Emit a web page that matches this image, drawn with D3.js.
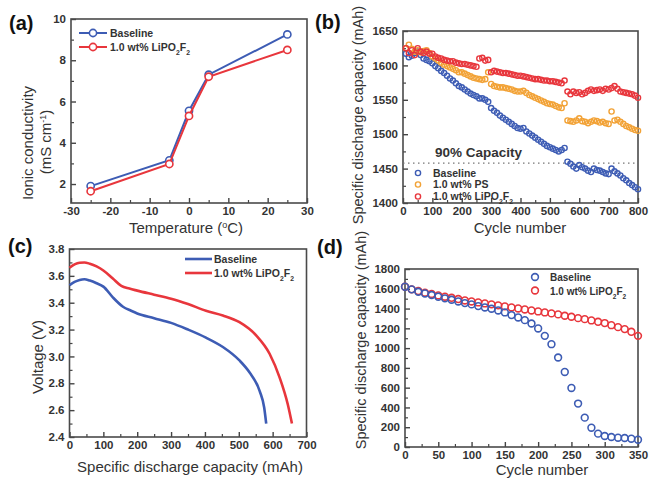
<!DOCTYPE html>
<html><head><meta charset="utf-8">
<script src="https://cdn.jsdelivr.net/npm/d3@7/dist/d3.min.js"></script>
<style>
body{margin:0;background:#fff;}
svg text{font-family:"Liberation Sans",Arial,sans-serif;}
.tk text{font-weight:bold;font-size:11.5px;fill:#333;font-family:"Liberation Sans",Arial,sans-serif;}
</style></head>
<body><svg id="c" width="650" height="479"></svg>
<script>
// ---------- Panel (a) ----------
const aTemps = [-25, -5, 0, 5, 25];
const aBaseline = [1.9, 3.15, 5.55, 7.3, 9.25];
const aLiPO = [1.65, 2.97, 5.3, 7.2, 8.5];
const aXTicks = [-30, -20, -10, 0, 10, 20, 30];
const aYTicks = [2, 4, 6, 8, 10];

// ---------- Panel (b) ----------
const bBaseline = [1617,1612,1614,1618,1620,1615,1610,1608,1606,1603,
1599,1596,1592,1589,1585,1581,1578,1574,1570,1568,
1565,1562,1559,1557,1555,1552,1552,1550,1547,1538,
1534,1531,1527,1524,1521,1518,1515,1512,1509,1508,
1509,1504,1501,1498,1495,1492,1489,1486,1483,1481,
1479,1477,1475,1477,1480,1460,1457,1453,1450,1455,
1452,1450,1447,1445,1450,1448,1447,1445,1443,1442,
1450,1446,1443,1440,1436,1433,1429,1426,1423,1420];
const bPS = [1625,1630,1624,1620,1622,1619,1621,1622,1618,1613,
1610,1607,1604,1601,1599,1597,1595,1593,1590,1590,
1588,1586,1584,1582,1581,1580,1579,1580,1590,1573,
1570,1569,1568,1568,1567,1566,1565,1563,1562,1562,
1563,1560,1557,1555,1553,1551,1549,1547,1545,1544,
1543,1541,1539,1538,1545,1520,1519,1518,1520,1523,
1519,1518,1516,1518,1520,1519,1517,1518,1516,1515,
1533,1520,1521,1518,1515,1512,1510,1508,1506,1505];
const bLiPO = [1625,1618,1622,1615,1625,1620,1618,1620,1617,1617,
1613,1611,1610,1608,1607,1606,1606,1604,1603,1602,
1602,1601,1600,1599,1598,1610,1611,1607,1608,1590,
1592,1591,1590,1589,1589,1588,1587,1586,1585,1585,
1584,1583,1582,1581,1580,1580,1579,1578,1578,1577,
1577,1576,1575,1574,1578,1562,1558,1562,1560,1561,
1558,1560,1563,1565,1563,1564,1565,1563,1566,1565,
1567,1570,1566,1562,1561,1560,1559,1558,1556,1553];
const bCycles = d3.range(10, 801, 10);
const bXTicks = [0,100,200,300,400,500,600,700,800];
const bYTicks = [1400,1450,1500,1550,1600,1650];
const bCapacity90 = 1458;

// ---------- Panel (c) ----------
const cBaseCap = [0,15,30,44,60,80,100,128,158,182,200,250,300,350,403,453,502,532,562,575,581];
const cBaseV = [3.53,3.555,3.57,3.575,3.565,3.545,3.52,3.44,3.37,3.34,3.32,3.285,3.25,3.2,3.14,3.07,2.97,2.88,2.74,2.62,2.5];
const cLiCap = [0,15,30,44,60,80,100,128,153,177,200,250,300,350,403,453,502,552,591,621,645,657];
const cLiV = [3.66,3.685,3.698,3.70,3.69,3.67,3.64,3.58,3.525,3.505,3.49,3.46,3.43,3.39,3.34,3.305,3.255,3.155,3.02,2.84,2.64,2.5];
const cXTicks = [0,100,200,300,400,500,600,700];
const cYTicks = [2.4,2.6,2.8,3.0,3.2,3.4,3.6,3.8];

// ---------- Panel (d) ----------
const dCycles = d3.range(0, 351, 10);
const dBaseline = [1621,1594,1570,1553,1537,1520,1503,1489,1472,1455,
1442,1425,1411,1398,1381,1361,1334,1310,1283,1249,
1199,1124,1040,905,759,597,439,297,195,135,
111,101,94,91,84,74];
const dLiPO = [1621,1594,1577,1560,1547,1533,1520,1509,1496,1482,
1472,1462,1452,1442,1432,1422,1411,1401,1391,1381,
1371,1361,1351,1341,1327,1317,1303,1293,1280,1266,
1253,1232,1212,1192,1165,1124];
const dXTicks = [0,50,100,150,200,250,300,350];
const dYTicks = [0,200,400,600,800,1000,1200,1400,1600,1800];

const BLUE = "#3d5cb4", RED = "#e8363c", ORANGE = "#f2a236", INK = "#333";
const svg = d3.select("#c");
const intFmt = d => String(d);

function panel(o){
  const g = svg.append("g");
  const x = d3.scaleLinear().domain(o.xd).range([o.l, o.r]);
  const y = d3.scaleLinear().domain(o.yd).range([o.b, o.t]);
  g.append("g").attr("transform",`translate(0,${o.b})`)
    .call(d3.axisBottom(x).tickValues(o.xMinor).tickSize(-3).tickFormat(""))
    .call(s=>{s.select(".domain").remove(); s.selectAll("line").attr("stroke","#444").attr("stroke-width",1.2);});
  g.append("g").attr("transform",`translate(${o.l},0)`)
    .call(d3.axisLeft(y).tickValues(o.yMinor).tickSize(-3).tickFormat(""))
    .call(s=>{s.select(".domain").remove(); s.selectAll("line").attr("stroke","#444").attr("stroke-width",1.2);});
  g.append("g").attr("class","tk").attr("transform",`translate(0,${o.b})`)
    .call(d3.axisBottom(x).tickValues(o.xTicks).tickSize(-5).tickPadding(4).tickFormat(o.xf||intFmt))
    .call(s=>{s.select(".domain").remove(); s.selectAll("line").attr("stroke","#444").attr("stroke-width",1.4);});
  g.append("g").attr("class","tk").attr("transform",`translate(${o.l},0)`)
    .call(d3.axisLeft(y).tickValues(o.yTicks).tickSize(-5).tickPadding(5).tickFormat(o.yf||intFmt))
    .call(s=>{s.select(".domain").remove(); s.selectAll("line").attr("stroke","#444").attr("stroke-width",1.4);});
  g.append("rect").attr("x",o.l).attr("y",o.t).attr("width",o.r-o.l).attr("height",o.b-o.t)
    .attr("fill","none").attr("stroke","#4a4a4a").attr("stroke-width",1.6);
  return {g,x,y};
}

function label(txt,x,y){
  svg.append("text").attr("x",x).attr("y",y).text(txt)
    .attr("font-family","'Liberation Serif','DejaVu Serif',serif").attr("font-weight","bold")
    .attr("font-size",20).attr("fill","#111");
}
function title(x,y,rot,parts,size){
  const t = svg.append("text").attr("text-anchor","middle").attr("font-size",size||15).attr("fill",INK)
    .attr("transform",`translate(${x},${y})${rot?" rotate(-90)":""}`);
  parts.forEach(p=>{
    const s = t.append("tspan").text(p.t);
    if(p.sup){ s.attr("baseline-shift","super").attr("font-size",(size||15)*0.6); }
  });
  return t;
}
function lipoText(sel, x, y, size){
  const t = sel.append("text").attr("x",x).attr("y",y).attr("font-size",size).attr("font-weight","bold").attr("fill",INK);
  t.append("tspan").text("1.0 wt% LiPO");
  t.append("tspan").text("2").attr("baseline-shift","sub").attr("font-size",size*0.65);
  t.append("tspan").text("F");
  t.append("tspan").text("2").attr("baseline-shift","sub").attr("font-size",size*0.65);
  return t;
}

// ===== (a) =====
{
  const P = panel({l:71,r:307,t:19,b:203,xd:[-30,30],yd:[1.08,10],xTicks:aXTicks,yTicks:aYTicks,
    xMinor:d3.range(-25,30,10),yMinor:[3,5,7,9]});
  const line = d3.line().x((d,i)=>P.x(aTemps[i])).y(d=>P.y(d));
  [[aBaseline,BLUE],[aLiPO,RED]].forEach(([s,c])=>{
    P.g.append("path").attr("d",line(s)).attr("fill","none").attr("stroke",c).attr("stroke-width",2);
    P.g.selectAll(null).data(s).join("circle").attr("cx",(d,i)=>P.x(aTemps[i])).attr("cy",d=>P.y(d))
      .attr("r",3.6).attr("fill","#fff").attr("stroke",c).attr("stroke-width",1.6);
  });
  [[33,BLUE],[47,RED]].forEach(([yy,c])=>{
    P.g.append("line").attr("x1",79).attr("x2",107).attr("y1",yy).attr("y2",yy).attr("stroke",c).attr("stroke-width",2);
    P.g.append("circle").attr("cx",93).attr("cy",yy).attr("r",3.6).attr("fill","#fff").attr("stroke",c).attr("stroke-width",1.6);
  });
  P.g.append("text").attr("x",110).attr("y",37).text("Baseline").attr("font-size",10.5).attr("font-weight","bold").attr("fill",INK);
  lipoText(P.g,110,51,10.5);
  label("(a)",9,30);
  title(186,233,false,[{t:"Temperature ("},{t:"o",sup:true},{t:"C)"}]);
  title(33,143,true,[{t:"Ionic conductivity"}]);
  title(51,142,true,[{t:"(mS cm"},{t:"-1",sup:true},{t:")"}]);
}

// ===== (b) =====
{
  const P = panel({l:403,r:638,t:31,b:203,xd:[0,800],yd:[1400,1650],xTicks:bXTicks,yTicks:bYTicks,
    xMinor:d3.range(50,800,100),yMinor:d3.range(1425,1650,50)});
  P.g.append("line").attr("x1",P.x(0)).attr("x2",P.x(800)).attr("y1",P.y(bCapacity90)).attr("y2",P.y(bCapacity90))
    .attr("stroke","#777").attr("stroke-width",1.4).attr("stroke-dasharray","1.5,3.5");
  [[bBaseline,BLUE],[bPS,ORANGE],[bLiPO,RED]].forEach(([s,c])=>{
    P.g.selectAll(null).data(s).join("circle").attr("cx",(d,i)=>P.x(bCycles[i])).attr("cy",d=>P.y(d))
      .attr("r",2.6).attr("fill","none").attr("stroke",c).attr("stroke-width",1.4);
  });
  P.g.append("text").attr("x",435).attr("y",157).text("90% Capacity")
    .attr("font-family","'Liberation Serif','DejaVu Serif',serif").attr("font-weight","bold").attr("font-size",13.5).attr("fill",INK);
  [[173,BLUE,"Baseline"],[184.5,ORANGE,"1.0 wt% PS"],[196.5,RED,null]].forEach(([yy,c,t])=>{
    P.g.append("circle").attr("cx",418).attr("cy",yy).attr("r",2.6).attr("fill","none").attr("stroke",c).attr("stroke-width",1.4);
    if(t) P.g.append("text").attr("x",433).attr("y",yy+3.5).text(t).attr("font-size",10.5).attr("font-weight","bold").attr("fill",INK);
    else lipoText(P.g,433,yy+3.5,10.5);
  });
  label("(b)",315,29);
  title(520,233,false,[{t:"Cycle number"}]);
  title(363,115,true,[{t:"Specific discharge capacity (mAh)"}],14.5);
}

// ===== (c) =====
{
  const P = panel({l:69.5,r:306.5,t:249,b:437,xd:[0,700],yd:[2.4,3.8],xTicks:cXTicks,yTicks:cYTicks,
    xMinor:d3.range(50,700,100),yMinor:[2.5,2.7,2.9,3.1,3.3,3.5,3.7],yf:d3.format(".1f")});
  const mk = (cap)=>d3.line().x((d,i)=>P.x(cap[i])).y(d=>P.y(d)).curve(d3.curveMonotoneX);
  P.g.append("path").attr("d",mk(cBaseCap)(cBaseV)).attr("fill","none").attr("stroke",BLUE).attr("stroke-width",2.6);
  P.g.append("path").attr("d",mk(cLiCap)(cLiV)).attr("fill","none").attr("stroke",RED).attr("stroke-width",2.6);
  [[259,BLUE],[273,RED]].forEach(([yy,c])=>{
    P.g.append("line").attr("x1",185).attr("x2",212).attr("y1",yy).attr("y2",yy).attr("stroke",c).attr("stroke-width",2.6);
  });
  P.g.append("text").attr("x",214).attr("y",263).text("Baseline").attr("font-size",10.5).attr("font-weight","bold").attr("fill",INK);
  lipoText(P.g,214,277,10.5);
  label("(c)",8,253);
  title(190,472,false,[{t:"Specific discharge capacity (mAh)"}]);
  title(43,357,true,[{t:"Voltage (V)"}]);
}

// ===== (d) =====
{
  const P = panel({l:405,r:638,t:269,b:447,xd:[0,350],yd:[0,1800],xTicks:dXTicks,yTicks:dYTicks,
    xMinor:d3.range(25,350,50),yMinor:d3.range(100,1800,200)});
  [[dLiPO,RED],[dBaseline,BLUE]].forEach(([s,c])=>{
    P.g.selectAll(null).data(s).join("circle").attr("cx",(d,i)=>P.x(dCycles[i])).attr("cy",d=>P.y(d))
      .attr("r",3.4).attr("fill","none").attr("stroke",c).attr("stroke-width",1.6);
  });
  [[277,BLUE],[290.5,RED]].forEach(([yy,c])=>{
    P.g.append("circle").attr("cx",535).attr("cy",yy).attr("r",3.4).attr("fill","none").attr("stroke",c).attr("stroke-width",1.6);
  });
  P.g.append("text").attr("x",550).attr("y",281).text("Baseline").attr("font-size",10).attr("font-weight","bold").attr("fill",INK);
  lipoText(P.g,550,294.5,10);
  label("(d)",317,254);
  title(542,475,false,[{t:"Cycle number"}]);
  title(366,340,true,[{t:"Specific discharge capacity (mAh)"}],14.5);
}
</script></body></html>
